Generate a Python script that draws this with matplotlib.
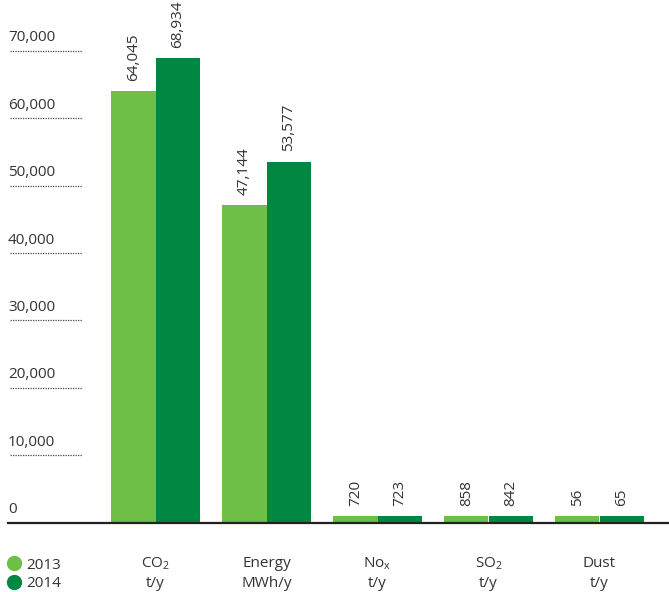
import numpy as np
import matplotlib
matplotlib.use("Agg")
import matplotlib.pyplot as plt
from matplotlib.lines import Line2D

plt.rcParams['font.family'] = ['Open Sans', 'DejaVu Sans']
plt.rcParams['mathtext.default'] = 'regular'

# data
categories = ["CO$_2$", "Energy", "No$_x$", "SO$_2$", "Dust"]
units = ["t/y", "MWh/y", "t/y", "t/y", "t/y"]
values_2013 = [64045, 47144, 720, 858, 56]
values_2014 = [68934, 53577, 723, 842, 65]
years = ["2013", "2014"]
yticks = [0, 10000, 20000, 30000, 40000, 50000, 60000, 70000]

c13 = '#6dbf45'
c14 = '#008741'
txt = '#333333'
min_h = 1000  # tiny bars are drawn with a minimum visible height, as in the original

fig = plt.figure(figsize=(6.69, 5.92), dpi=100)
ax = fig.add_axes([8 / 669, (592 - 522.7) / 592, 661 / 669, 522.7 / 592])

x = np.arange(len(categories))
w = 0.4
b1 = ax.bar(x - w / 2, np.maximum(values_2013, min_h), w, color=c13)
b2 = ax.bar(x + w / 2, np.maximum(values_2014, min_h), w, color=c14)

ax.set_xlim((8 - 155.5) / 111, (669 - 155.5) / 111)
ax.set_ylim(0, 77550)

for s in ax.spines.values():
    s.set_visible(False)
ax.axhline(0, color='#222222', lw=1.6, clip_on=False)
ax.set_xticks([])
ax.set_yticks([])

# left "grid" labels with dotted underline
tr = ax.get_yaxis_transform()
for v in yticks:
    if v > 0:
        ax.plot([0.003, 0.112], [v, v], transform=tr, color='#444444',
                lw=0.9, ls=(0, (1, 1)))
    ax.annotate(f"{v:,}", xy=(0.0, v), xycoords=tr, xytext=(0, 4),
                textcoords='offset points', ha='left', va='bottom',
                fontsize=11, color=txt)

# value labels
for bars, vals in [(b1, values_2013), (b2, values_2014)]:
    for r, v in zip(bars, vals):
        ax.annotate(f"{v:,}", xy=(r.get_x() + r.get_width() / 2, r.get_height()),
                    xytext=(0, 7.5), textcoords='offset points', rotation=90,
                    ha='center', va='bottom', fontsize=11, color=txt)

# category labels
xt = ax.get_xaxis_transform()
for i, (c, u) in enumerate(zip(categories, units)):
    ax.annotate(c, xy=(i, 0), xycoords=xt, xytext=(0, -29.5), textcoords='offset points',
                ha='center', va='center', fontsize=11, color=txt)
    ax.annotate(u, xy=(i, 0), xycoords=xt, xytext=(0, -43.5), textcoords='offset points',
                ha='center', va='center', fontsize=11, color=txt)

handles = [Line2D([], [], marker='o', ls='', color=c, markersize=10) for c in (c13, c14)]
fig.legend(handles, years, loc='upper left', bbox_to_anchor=(0.0075, 0.058),
           frameon=False, fontsize=11, handletextpad=0.2, labelspacing=0.25,
           handlelength=1.2, borderaxespad=0, borderpad=0, labelcolor=txt)

fig.savefig("out.png", dpi=100)
